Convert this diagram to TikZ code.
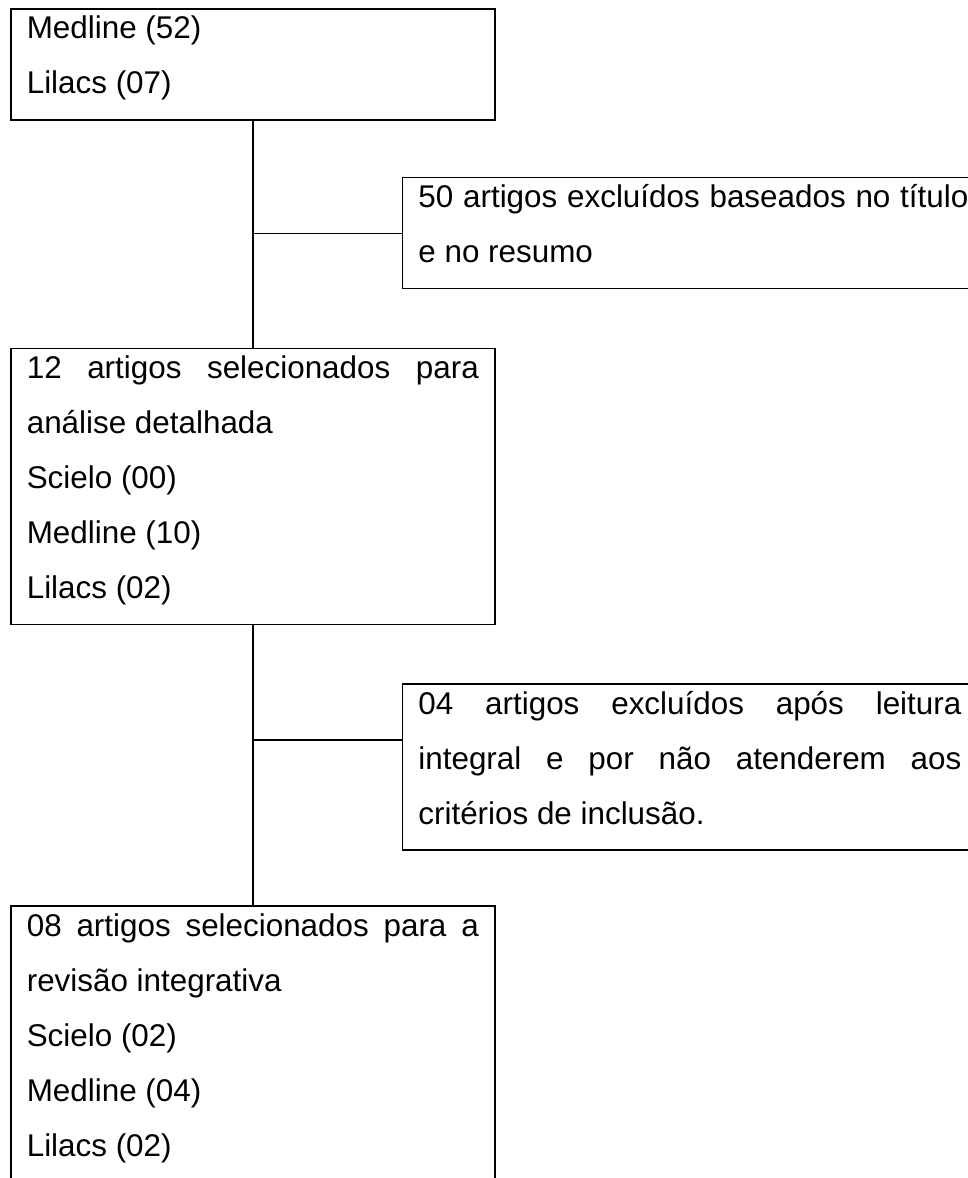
\documentclass[tikz,border=0pt]{standalone}
\usepackage{fontspec}
\setmainfont{Liberation Sans}
\usetikzlibrary{positioning,calc}
\newcommand{\topstrut}{\rule{0pt}{30pt}}
\newcommand{\botstrut}{\rule[-26pt]{0pt}{26pt}}
\newcommand{\boxfont}{\fontsize{31.4}{55}\selectfont\hyphenpenalty=10000\tolerance=9999 }

\begin{document}
\begin{tikzpicture}[line width=1.6pt, node distance=227pt]
	\tikzstyle{caixa}=[draw=black,rectangle,inner xsep=16pt,inner ysep=0pt,text width=452pt,align=justify,font=\boxfont]
	\useasboundingbox (0,0) rectangle (968pt,-1178pt);
	\clip (0,0) rectangle (968pt,-1178pt);
	\node[caixa,anchor=north west] (A) at (10pt,-8pt) {\topstrut Medline (52)\\Lilacs (07)\botstrut};
	\node[caixa,text width=550pt] (B) [below right=56pt and -94pt of A.south east] {\topstrut 50 artigos excluídos baseados no título e no resumo\botstrut};
	\node[caixa]    (C) [below=of A] {\topstrut 12 artigos selecionados para análise detalhada\\Scielo (00)\\Medline (10)\\Lilacs (02)\botstrut};
	\node[caixa,text width=543pt] (D) [below right=58pt and -94pt of C.south east] {\topstrut 04 artigos excluídos após leitura integral e por não atenderem aos critérios de inclusão.\botstrut};
	\node[caixa]    (E) [below=280pt of C] {\topstrut 08 artigos selecionados para a revisão integrativa\\Scielo (02)\\Medline (04)\\Lilacs (02)\rule[-80pt]{0pt}{80pt}};
	\coordinate (b1) at ($(B.north west)+(0,-57pt)$);
	\coordinate (b2) at ($(D.north west)+(0,-57pt)$);
	\draw (A) -- (C);
	\draw (C) -- (E);
	\draw (b1) -- (b1 -| A.south);
	\draw (b2) -- (b2 -| C.south);
\end{tikzpicture}
\end{document}
